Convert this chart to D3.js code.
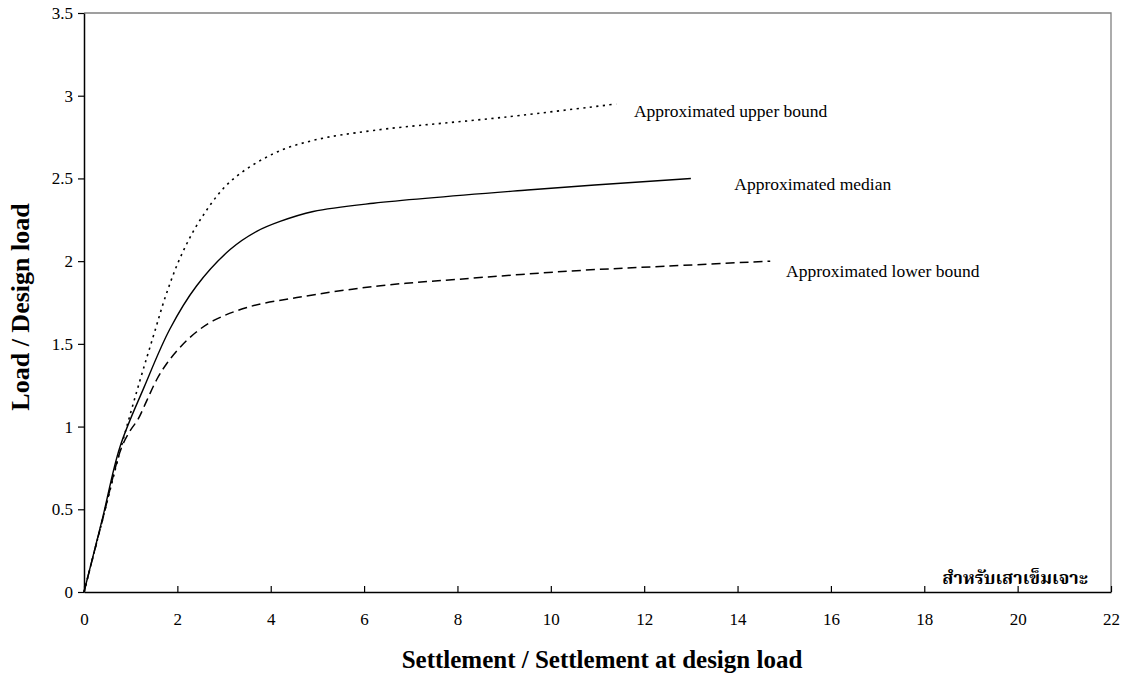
<!DOCTYPE html>
<html><head><meta charset="utf-8">
<script src="https://cdn.jsdelivr.net/npm/d3@7"></script>
<style>body{margin:0;background:#fff}svg{display:block}</style>
</head><body>
<script>
// Data
const upperX = [0, 0.4, 0.8, 1.2, 1.5, 1.75, 2.06, 2.49, 3.13, 4.06, 4.91, 6.2, 9.0, 11.4];
const upperY = [0, 0.44, 0.88, 1.28, 1.56, 1.79, 2.02, 2.25, 2.48, 2.65, 2.73, 2.79, 2.87, 2.95];
const medianX = [0, 0.4, 0.77, 1.29, 1.84, 2.41, 3.13, 3.7, 4.2, 4.91, 6.2, 9.5, 13.0];
const medianY = [0, 0.45, 0.877, 1.24, 1.59, 1.85, 2.07, 2.18, 2.24, 2.30, 2.35, 2.43, 2.5];
const lowerX = [0, 0.4, 0.8, 1.0, 1.15, 1.35, 1.55, 1.77, 2.06, 2.4, 2.77, 3.49, 4.56, 6.3, 8.0, 10.4, 12.5, 14.7];
const lowerY = [0, 0.44, 0.87, 0.98, 1.04, 1.16, 1.28, 1.38, 1.48, 1.57, 1.64, 1.72, 1.78, 1.85, 1.89, 1.94, 1.97, 2.0];
const seriesLabels = ["Approximated upper bound", "Approximated median", "Approximated lower bound"];
const xTicks = [0, 2, 4, 6, 8, 10, 12, 14, 16, 18, 20, 22];
const yTicks = [0, 0.5, 1, 1.5, 2, 2.5, 3, 3.5];
const xTitle = "Settlement / Settlement at design load";
const yTitle = "Load / Design load";
const note = "สำหรับเสาเข็มเจาะ";

const W = 1133, H = 680;
const m = {left: 84, right: 1111, top: 13, bottom: 592};
const svg = d3.select("body").append("svg").attr("width", W).attr("height", H);
const x = d3.scaleLinear().domain([0, 22]).range([m.left, m.right]);
const y = d3.scaleLinear().domain([0, 3.5]).range([m.bottom, m.top]);
const serif = "'Liberation Serif','Times New Roman',serif";

// plot border (top/right gray)
svg.append("path").attr("d", `M${m.left},${m.top}H${m.right}V${m.bottom}`)
  .attr("fill", "none").attr("stroke", "#808080").attr("stroke-width", 1.3);

// axes
const yAxis = svg.append("g").attr("transform", `translate(${m.left},0)`)
  .call(d3.axisLeft(y).tickValues(yTicks).tickSize(6).tickSizeOuter(0).tickPadding(5).tickFormat(d3.format("")));
const xAxis = svg.append("g").attr("transform", `translate(0,${m.bottom})`)
  .call(d3.axisTop(x).tickValues(xTicks).tickSize(6).tickSizeOuter(0).tickFormat(d3.format("")));
[yAxis, xAxis].forEach(g => {
  g.select(".domain").attr("stroke", "#000").attr("stroke-width", 1.5);
  g.selectAll(".tick line").attr("stroke", "#000").attr("stroke-width", 1.2);
  g.selectAll("text").attr("font-family", serif).attr("font-size", 17).attr("fill", "#000");
});
yAxis.selectAll("text").attr("x", -11);
xAxis.selectAll(".tick text").attr("y", 33).attr("dy", "0");

// lines
const line = d3.line().x(d => x(d[0])).y(d => y(d[1])).curve(d3.curveCatmullRom.alpha(0.5));
const mk = (xs, ys) => xs.map((v, i) => [v, ys[i]]);
const series = [
  {d: mk(upperX, upperY), dash: "2.2,4.4", w: 1.6},
  {d: mk(medianX, medianY), dash: null, w: 1.4},
  {d: mk(lowerX, lowerY), dash: "9,5", w: 1.5}
];
series.forEach(s => {
  svg.append("path").datum(s.d).attr("d", line).attr("fill", "none")
    .attr("stroke", "#000").attr("stroke-width", s.w)
    .attr("stroke-dasharray", s.dash);
});

// series labels
const labelPos = [[11.78, 2.872], [13.93, 2.433], [15.04, 1.903]];
seriesLabels.forEach((t, i) => {
  svg.append("text").attr("x", x(labelPos[i][0])).attr("y", y(labelPos[i][1]))
    .attr("font-family", serif).attr("font-size", 17.5).text(t);
});

// note
svg.append("text").attr("x", 1088).attr("y", 584).attr("text-anchor", "end")
  .attr("font-family", "'Noto Serif Thai','Noto Sans Thai','Loma','Garuda',serif")
  .attr("font-weight", "bold").attr("font-size", 18).text(note);

// axis titles
svg.append("text").attr("x", 602).attr("y", 668).attr("text-anchor", "middle")
  .attr("font-family", serif).attr("font-weight", "bold").attr("font-size", 25).text(xTitle);
svg.append("text").attr("transform", `translate(29,307) rotate(-90)`).attr("text-anchor", "middle")
  .attr("font-family", serif).attr("font-weight", "bold").attr("font-size", 26).text(yTitle);
</script>
</body></html>
